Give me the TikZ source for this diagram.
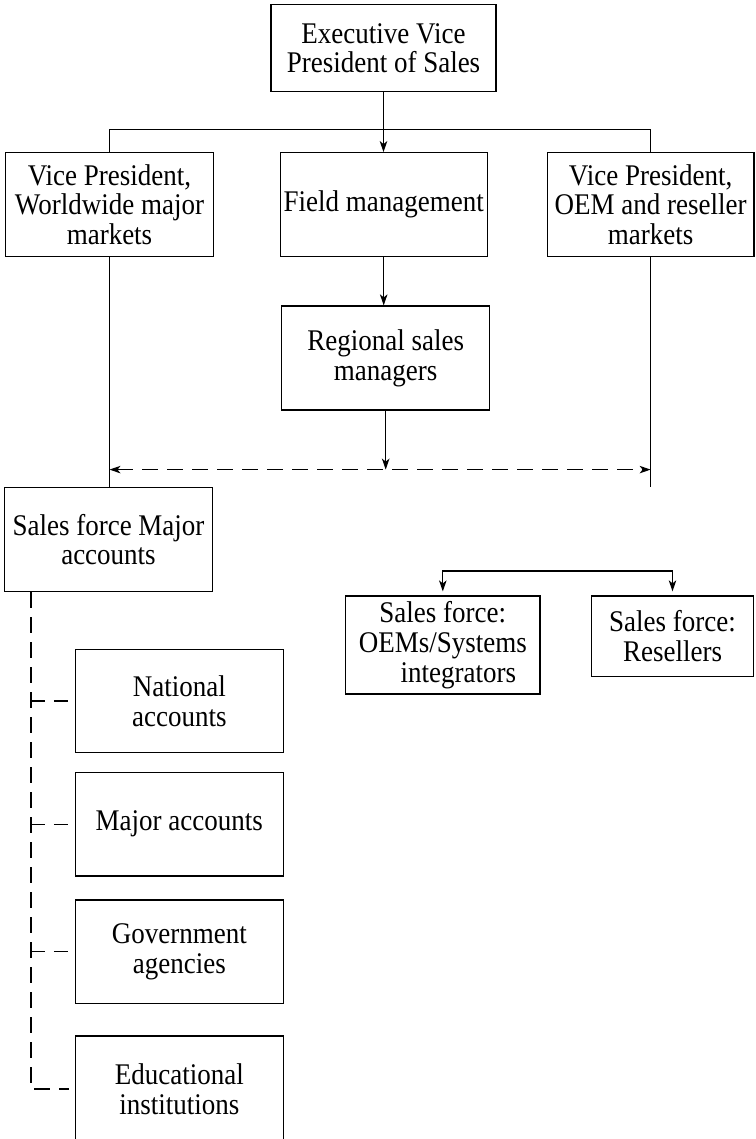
\documentclass[tikz,border=0pt]{standalone}
\usepackage{fontspec}
\setmainfont{Liberation Serif}[FakeStretch=0.9]
\usetikzlibrary{arrows.meta,calc,positioning}

\begin{document}
\begin{tikzpicture}[x=1pt,y=-1pt,line width=1.2pt,>={Stealth[length=11pt,width=7.5pt,inset=3pt]},
  unit/.style={draw,align=center,inner sep=0pt,font=\fontsize{30}{29.8}\selectfont},
  dsh/.style={dash pattern=on 15.5pt off 9.5pt},
  twig/.style={dash pattern=on 14pt off 9pt,shorten >=5pt}]
\useasboundingbox (0,0) rectangle (755,1139);
\node[unit,minimum width=225pt,minimum height=87pt] (evp) at (383.5,48.3) {Executive Vice\\President of Sales};
\node[unit,minimum width=207.5pt,minimum height=104pt] (vpw) at (109.5,204.7) {Vice President,\\Worldwide major\\markets};
\node[unit,minimum width=207pt,minimum height=104pt] (fm) at (383.7,204.7) {Field management};
\node[unit,minimum width=206.6pt,minimum height=104pt] (vpo) at (650.6,204.7) {Vice President,\\OEM and reseller\\markets};
\node[unit,minimum width=208pt,minimum height=104pt] (rsm) at (385.7,358) {Regional sales\\managers};
\node[unit,minimum width=207.5pt,minimum height=104.4pt] (sfm) at (108.5,539.5) {Sales force Major\\accounts};
\node[unit,minimum width=194.3pt,minimum height=98pt] (oem) at (442.8,645) {Sales force:\\OEMs/Systems\\\hspace*{31pt}integrators};
\node[unit,minimum width=161.7pt,minimum height=80.7pt] (res) at (672.5,636.3) {Sales force:\\Resellers};
\foreach \n/\y/\h/\t in {nat/701/103.4/National\\accounts,maj/824.2/103.7/Major accounts,gov/951.7/103.3/Government\\agencies,edu/1089/106/Educational\\institutions}
  \node[unit,minimum width=208pt,minimum height=\h pt] (\n) at (179.3,\y) {\t};
\draw (vpw.north) -- ++(0,-22.7) -| (vpo.north);
\draw[->] (evp.south) -- (evp.south |- fm.north);
\draw[->] (fm.south) -- (fm.south |- rsm.north);
\draw (vpw.south) -- (vpw.south |- sfm.north);
\draw (vpo.south) -- (vpo.south |- sfm.north);
\draw[->] (rsm.south) -- ++(0,59) coordinate (hub);
\draw[<->,dsh] (vpw.south |- hub) -- (vpo.south |- hub);
\draw[<->,shorten <=4pt,shorten >=4pt] (oem.north) |- ($(res.north)+(0,-24.3)$) -- (res.north);
\coordinate (spine) at ([xshift=26.8pt]sfm.south west);
\draw[dsh,shorten >=5.7pt] (spine) |- (edu.west);
\foreach \n in {nat,maj,gov} \draw[twig] (spine |- \n.west) -- (\n.west);
\end{tikzpicture}
\end{document}
